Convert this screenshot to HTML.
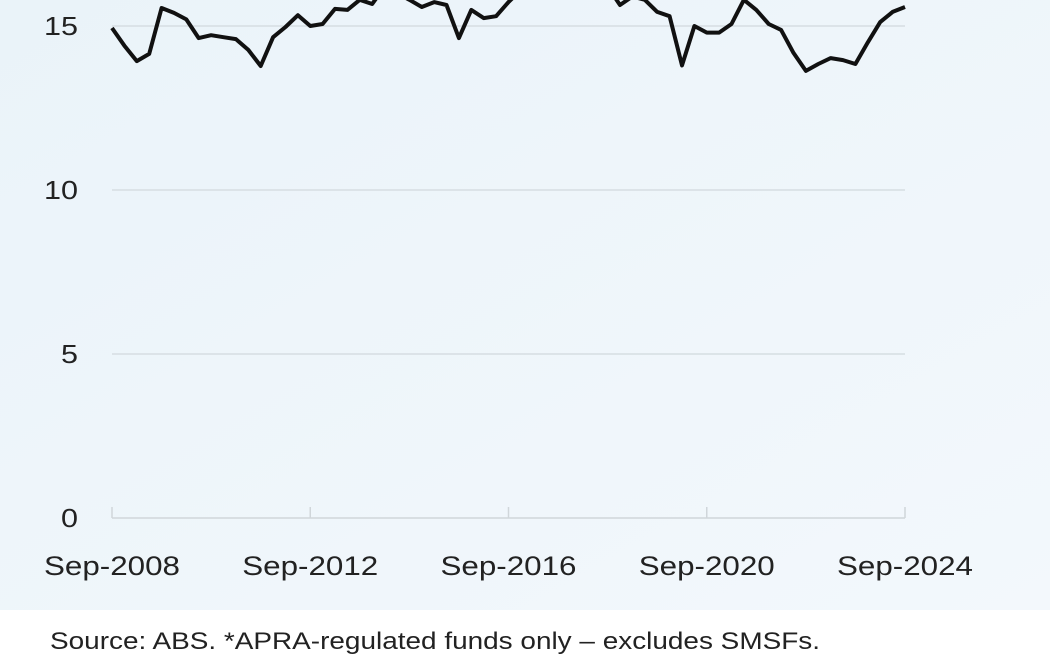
<!DOCTYPE html>
<html><head><meta charset="utf-8"><style>
html,body{margin:0;padding:0;width:1050px;height:656px;overflow:hidden;background:#fff;font-family:"Liberation Sans",sans-serif}
</style></head><body>
<svg width="1050" height="656" xmlns="http://www.w3.org/2000/svg">
<defs><linearGradient id="bg" x1="0" y1="0" x2="1" y2="1"><stop offset="0" stop-color="#eaf3f9"/><stop offset="1" stop-color="#f3f8fc"/></linearGradient></defs>
<rect x="0" y="0" width="1050" height="610" fill="url(#bg)"/>
<g id="grid"></g><g id="axes"></g><g id="series"></g>
<text x="50" y="649" font-size="24" fill="#222" textLength="770" lengthAdjust="spacingAndGlyphs">Source: ABS. *APRA-regulated funds only – excludes SMSFs.</text>
</svg>
<script>
const yTicks=[0,5,10,15];
const xTickLabels=["Sep-2008","Sep-2012","Sep-2016","Sep-2020","Sep-2024"];
const xTickIndex=[0,16,32,48,64];
const values=[14.94,14.4,13.93,14.15,15.55,15.4,15.2,14.63,14.72,14.66,14.6,14.27,13.78,14.66,14.97,15.33,15.0,15.06,15.52,15.49,15.8,15.67,16.2,16.0,15.8,15.58,15.73,15.64,14.63,15.49,15.24,15.3,15.73,16.1,16.3,16.5,16.6,16.4,16.2,16.0,16.2,15.64,15.9,15.8,15.43,15.3,13.8,15.0,14.8,14.8,15.06,15.8,15.49,15.06,14.88,14.18,13.63,13.84,14.02,13.96,13.84,14.5,15.12,15.43,15.58];
const ns="http://www.w3.org/2000/svg";
const X=i=>112+(905-112)*i/64;
const Y=v=>518-v*32.8;
function mk(t,a,p){const e=document.createElementNS(ns,t);for(const k in a)e.setAttribute(k,a[k]);p.appendChild(e);return e;}
const grid=document.getElementById('grid'),axes=document.getElementById('axes'),ser=document.getElementById('series');
yTicks.forEach(v=>{
 if(v>0){const l=mk('line',{x1:112,x2:905,y1:Y(v),y2:Y(v),stroke:'#d6dde2','stroke-width':1.5},grid);
 
 }
 const s=String(v);
 const t=mk('text',{x:78,y:Y(v)+9,'font-size':26,'text-anchor':'end',fill:'#222',textLength:s.length*17,lengthAdjust:'spacingAndGlyphs'},axes);t.textContent=s;
 
 
});
const ax=mk('line',{x1:112,x2:905,y1:518,y2:518,stroke:'#d0d6da','stroke-width':1.5},axes);


xTickIndex.forEach((i,k)=>{
 const tk=mk('line',{x1:X(i),x2:X(i),y1:507,y2:518,stroke:'#d0d6da','stroke-width':1.5},axes);
 
 
 const t=mk('text',{x:X(i)-68,y:575,'font-size':27,fill:'#222',textLength:136,lengthAdjust:'spacingAndGlyphs'},axes);t.textContent=xTickLabels[k];
 
 
});
const d=values.map((v,i)=>(i?'L':'M')+X(i).toFixed(1)+','+Y(v).toFixed(1)).join('');
const p=mk('path',{d:d,fill:'none',stroke:'#111','stroke-width':4,'stroke-linejoin':'round'},ser);


</script>
</body></html>
